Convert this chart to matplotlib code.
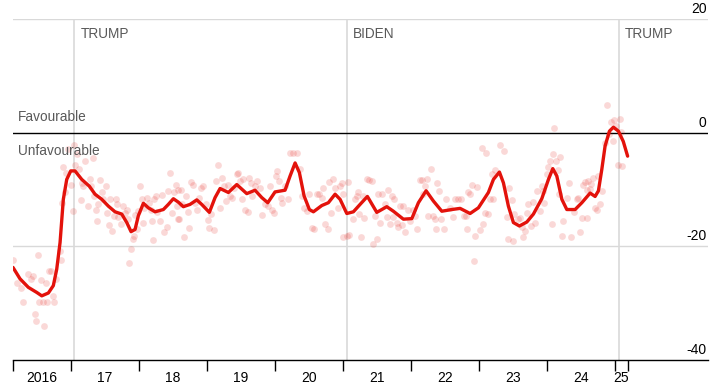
import numpy as np
import matplotlib
matplotlib.use("Agg")
import matplotlib.pyplot as plt
import matplotlib.transforms as mtransforms

plt.rcParams['font.family'] = ['Liberation Sans', 'DejaVu Sans']

# smoothed net favourability (decimal year, value)
trend_year = [2016.151, 2016.254, 2016.376, 2016.5, 2016.574, 2016.671, 2016.744, 2016.794,
              2016.843, 2016.891, 2016.941, 2017.0, 2017.063, 2017.162, 2017.274, 2017.357,
              2017.456, 2017.553, 2017.651, 2017.75, 2017.824, 2017.887, 2017.946, 2017.994,
              2018.068, 2018.141, 2018.24, 2018.362, 2018.435, 2018.509, 2018.582, 2018.656,
              2018.754, 2018.853, 2018.926, 2019.038, 2019.122, 2019.196, 2019.318, 2019.441,
              2019.588, 2019.71, 2019.809, 2019.897, 2020.004, 2020.151, 2020.225, 2020.299,
              2020.362, 2020.431, 2020.509, 2020.568, 2020.691, 2020.788, 2020.887, 2020.96,
              2021.059, 2021.156, 2021.254, 2021.362, 2021.5, 2021.647, 2021.744, 2021.891,
              2022.015, 2022.112, 2022.225, 2022.332, 2022.456, 2022.603, 2022.725, 2022.872,
              2022.994, 2023.141, 2023.215, 2023.303, 2023.362, 2023.435, 2023.509, 2023.597,
              2023.706, 2023.803, 2023.926, 2024.024, 2024.088, 2024.147, 2024.221, 2024.294,
              2024.416, 2024.515, 2024.637, 2024.71, 2024.759, 2024.809, 2024.857, 2024.921,
              2024.979, 2025.053, 2025.124, 2025.188]
trend_val = [-23.7, -25.7, -27.2, -28.1, -28.7, -28.2, -26.9, -24.0,
             -19.3, -11.7, -8.2, -6.7, -6.7, -8.2, -9.4, -10.8,
             -11.7, -12.9, -13.9, -14.3, -15.8, -17.4, -17.0, -14.6,
             -12.4, -13.2, -13.9, -13.5, -12.6, -11.6, -12.2, -13.0,
             -12.6, -11.8, -12.6, -14.0, -11.4, -9.8, -10.5, -9.1,
             -10.7, -10.1, -11.4, -12.3, -10.4, -10.1, -7.6, -5.3,
             -7.0, -11.1, -13.5, -13.9, -12.8, -12.3, -10.8, -11.7,
             -14.2, -13.9, -12.6, -11.2, -14.0, -13.0, -13.8, -15.2,
             -15.1, -12.3, -10.2, -12.0, -13.8, -13.5, -13.3, -14.2,
             -13.2, -10.5, -8.2, -6.9, -8.8, -12.9, -15.8, -16.4,
             -15.7, -14.3, -11.6, -8.2, -6.3, -7.6, -11.7, -13.5,
             -13.5, -12.3, -10.6, -11.2, -10.2, -6.4, -2.3, 0.3,
             1.0, 0.3, -1.5, -4.1]

# individual polls (decimal year, value)
poll_year = [2016.146, 2016.215, 2016.264, 2016.303, 2016.377, 2016.411, 2016.45, 2016.475,
             2016.49, 2016.524, 2016.538, 2016.558, 2016.597, 2016.607, 2016.636, 2016.656,
             2016.685, 2016.705, 2016.734, 2016.759, 2016.783, 2016.852, 2016.842, 2016.867,
             2016.881, 2016.916, 2016.93, 2016.965, 2016.999, 2017.029, 2017.048, 2017.063,
             2017.087, 2017.127, 2017.146, 2017.161, 2017.185, 2017.21, 2017.259, 2017.283,
             2017.293, 2017.323, 2017.342, 2017.372, 2017.391, 2017.406, 2017.43, 2017.455,
             2017.479, 2017.514, 2017.538, 2017.568, 2017.577, 2017.602, 2017.636, 2017.666,
             2017.675, 2017.7, 2017.734, 2017.774, 2017.798, 2017.823, 2017.847, 2017.862,
             2017.882, 2017.911, 2017.93, 2017.945, 2017.97, 2017.994, 2018.018, 2018.043,
             2018.058, 2018.077, 2018.127, 2018.156, 2018.176, 2018.19, 2018.205, 2018.225,
             2018.254, 2018.264, 2018.313, 2018.337, 2018.372, 2018.411, 2018.436, 2018.46,
             2018.485, 2018.519, 2018.548, 2018.558, 2018.583, 2018.583,
             2018.593, 2018.622, 2018.642, 2018.671, 2018.691, 2018.73, 2018.74, 2018.769,
             2018.804, 2018.828, 2018.853, 2018.887, 2018.916, 2018.951, 2018.985, 2019.014,
             2019.034, 2019.063, 2019.112, 2019.132, 2019.161, 2019.196, 2019.22, 2019.259,
             2019.279, 2019.308, 2019.343, 2019.377, 2019.406, 2019.441, 2019.465, 2019.49,
             2019.514, 2019.539, 2019.563, 2019.602, 2019.622, 2019.651, 2019.671, 2019.71,
             2019.735, 2019.784, 2019.818, 2019.857, 2019.896, 2019.931, 2019.965, 2019.994,
             2020.014, 2020.029, 2020.063, 2020.093, 2020.112, 2020.151, 2020.2, 2020.225,
             2020.274, 2020.323, 2020.372, 2020.396, 2020.435, 2020.47, 2020.504, 2020.543,
             2020.583, 2020.617, 2020.652, 2020.69, 2020.715, 2020.74, 2020.779, 2020.798,
             2020.828, 2020.862, 2020.887, 2020.926, 2020.96, 2020.985, 2021.0, 2021.009,
             2021.068, 2021.097, 2021.083, 2021.156, 2021.18, 2021.205, 2021.23, 2021.244,
             2021.264, 2021.293, 2021.313, 2021.352, 2021.391, 2021.426, 2021.45, 2021.475,
             2021.509, 2021.524, 2021.548, 2021.573, 2021.622, 2021.646, 2021.671, 2021.695,
             2021.72, 2021.744, 2021.754, 2021.793, 2021.818, 2021.842, 2021.867, 2021.891,
             2021.916, 2021.965, 2021.989, 2022.028, 2022.063, 2022.087, 2022.136, 2022.161,
             2022.185, 2022.21, 2022.234, 2022.259, 2022.293, 2022.332, 2022.357, 2022.371,
             2022.391, 2022.415, 2022.44, 2022.489, 2022.518, 2022.577, 2022.626, 2022.651,
             2022.7, 2022.734, 2022.783, 2022.812, 2022.822, 2022.847, 2022.871, 2022.896,
             2022.93, 2022.945, 2022.969, 2023.018, 2023.043, 2023.067, 2023.092, 2023.106,
             2023.141, 2023.167, 2023.216, 2023.191, 2023.24, 2023.314, 2023.377, 2023.412,
             2023.426, 2023.446, 2023.485, 2023.51, 2023.524, 2023.583, 2023.608, 2023.632,
             2023.657, 2023.681, 2023.706, 2023.73, 2023.769, 2023.804, 2023.828, 2023.853,
             2023.902, 2023.926, 2023.951, 2023.965, 2024.0, 2024.024, 2024.049, 2024.073,
             2024.098, 2024.112, 2024.132, 2024.171, 2024.196, 2024.181, 2024.22, 2024.245,
             2024.294, 2024.328, 2024.357, 2024.406, 2024.441, 2024.465, 2024.49, 2024.514,
             2024.539, 2024.563, 2024.588, 2024.588, 2024.612, 2024.637, 2024.651, 2024.686,
             2024.71, 2024.735, 2024.749, 2024.784, 2024.818, 2024.857, 2024.882, 2024.916,
             2024.945, 2024.98, 2024.994, 2025.014, 2025.043, 2025.078, 2025.093, 2025.112]
poll_val = [-22.4, -26.4, -27.3, -29.8, -24.9, -25.8, -25.2, -31.9,
            -33.1, -21.5, -29.8, -25.9, -29.8, -34.1, -26.4, -29.7,
            -24.4, -24.4, -28.7, -29.7, -25.7, -22.4, -20.8, -12.4,
            -6.0, -10.5, -7.0, -2.8, -9.1, -13.8, -2.1, -5.6,
            -3.8, -6.4, -11.8, -8.8, -9.4, -5.0, -12.9, -8.1,
            -9.4, -4.4, -11.1, -13.6, -15.5, -12.6, -8.3, -10.5,
            -11.7, -9.4, -14.1, -16.3, -11.7, -17.3, -14.6, -11.7,
            -12.6, -14.9, -16.1, -12.9, -14.2, -13.5, -15.2, -22.9,
            -20.5, -18.7, -18.1, -14.5, -17.0, -13.8, -9.4, -11.7,
            -15.9, -13.2, -11.4, -12.3, -13.6, -15.5, -18.8, -11.6,
            -11.2, -13.9, -15.5, -11.0, -17.4, -16.5, -10.2, -7.0,
            -14.2, -10.4, -9.2, -12.9, -15.1, -10.1,
            -15.2, -10.0, -12.6, -18.3, -11.1, -13.9, -16.7, -8.7,
            -9.1, -12.3, -13.5, -11.4, -9.7, -9.4, -12.6, -15.3,
            -16.7, -14.3, -17.1, -8.5, -5.6, -13.2, -7.9, -9.4,
            -12.0, -9.1, -11.1, -11.4, -9.7, -7.3, -7.0, -8.5,
            -11.7, -8.2, -13.5, -13.9, -7.9, -8.8, -11.1, -9.4,
            -8.5, -9.7, -14.5, -12.6, -12.9, -9.4, -13.5, -14.1,
            -7.6, -6.7, -8.5, -11.4, -12.3, -9.4, -11.7, -3.5,
            -3.5, -3.5, -6.4, -11.1, -13.2, -13.8, -10.8, -16.7,
            -16.9, -10.8, -10.8, -11.4, -9.7, -16.1, -17.0, -8.7,
            -14.1, -8.2, -9.7, -13.2, -9.4, -8.9, -10.7, -18.4,
            -18.1, -17.9, -8.6, -15.2, -11.7, -11.1, -10.4, -14.3,
            -18.4, -11.1, -15.0, -8.1, -8.3, -8.5, -19.6, -14.7,
            -18.7, -10.8, -15.8, -10.7, -12.6, -14.9, -10.1, -16.1,
            -11.1, -14.9, -11.7, -15.8, -16.5, -12.8, -16.3, -12.8,
            -17.4, -13.6, -15.5, -13.5, -14.7, -16.9, -8.3, -8.3,
            -10.8, -9.4, -8.1, -14.7, -6.3, -14.7, -15.2, -16.9,
            -8.9, -10.2, -15.1, -16.9, -11.7, -13.2, -14.9, -11.7,
            -11.7, -11.7, -14.6, -14.7, -16.9, -10.4, -10.7, -9.2,
            -22.5, -18.1, -9.5, -17.1, -2.6, -16.1, -14.1, -3.6,
            -14.3, -11.7, -11.7, -7.2, -6.6, -2.05, -3.2, -14.9,
            -18.7, -9.7, -11.9, -19.0, -14.3, -15.2, -15.0, -16.6,
            -18.4, -17.3, -14.05, -12.6, -16.4, -12.1, -15.8, -10.2,
            -13.8, -9.4, -10.2, -12.3, -7.3, -6.0, -4.9, -16.1,
            -3.7, 0.87, -4.9, -6.6, -4.3, -10.8, -18.1, -15.5,
            -11.5, -8.8, -18.3, -13.9, -11.7, -11.5, -17.4, -15.0,
            -9.2, -8.6, -15.0, -10.1, -8.4, -9.8, -9.0, -7.9,
            -13.2, -13.6, -7.6, -12.5, -10.2, -1.8, 4.85, -0.2,
            1.9, -1.5, 2.3, 1.2, -5.7, 2.5, 0.2, -5.9]

# terms of office
term_start = [2017.055, 2021.055, 2025.055]
term_name = ['TRUMP', 'BIDEN', 'TRUMP']

# x axis: data start, year boundaries, data end
year_edges = [2016.151, 2017, 2018, 2019, 2020, 2021, 2022, 2023, 2024, 2025, 2025.188]
year_labels = ['2016', '17', '18', '19', '20', '21', '22', '23', '24', '25']
y_ticks = [20, 0, -20, -40]

red = '#e3120b'
grey_txt = '#595959'
grid_c = '#d9d9d9'

fig = plt.figure(figsize=(7.25, 3.87), dpi=100)
ax = fig.add_axes([13 / 725, 1 - 360 / 387, 695 / 725, (360 - 19.3) / 387])

ax.set_xlim(2016.151, 2026.37)
ax.set_ylim(-40, 20)

for y in [20, -20]:
    ax.axhline(y, color=grid_c, lw=1, zorder=1)
ax.axhline(0, color='black', lw=1, zorder=2)
for xs, nm in zip(term_start, term_name):
    ax.axvline(xs, color=grid_c, lw=1.2, zorder=1)
    ax.text(xs + 0.09, 17.4, nm, color=grey_txt, fontsize=9.8, va='center', ha='left')

ax.scatter(poll_year, poll_val, s=24, color=red, alpha=0.16, lw=0, zorder=3)
ax.plot(trend_year, trend_val, color=red, lw=2.4, solid_joinstyle='round',
        solid_capstyle='round', zorder=4)

ax.text(2016.23, 2.8, 'Favourable', color=grey_txt, fontsize=9.8, va='center')
ax.text(2016.23, -3.2, 'Unfavourable', color=grey_txt, fontsize=9.8, va='center')

for s in ['top', 'left', 'right']:
    ax.spines[s].set_visible(False)
ax.spines['bottom'].set_color('black')
ax.spines['bottom'].set_linewidth(1)

ax.set_xticks(year_edges)
ax.set_xticklabels([])
ax.tick_params(axis='x', which='major', length=8, width=1, color='black', direction='out')
mids = [(a + b) / 2 for a, b in zip(year_edges[:-1], year_edges[1:])]
ax.set_xticks(mids, minor=True)
ax.set_xticklabels(year_labels, minor=True, fontsize=10)
ax.tick_params(axis='x', which='minor', length=0, pad=8)

ax.yaxis.tick_right()
ax.set_yticks(y_ticks)
ax.set_yticklabels([str(v) for v in y_ticks], fontsize=10)
ax.tick_params(axis='y', length=0, pad=-1)
shift = mtransforms.ScaledTranslation(0, 3 / 100, fig.dpi_scale_trans)
for lab in ax.get_yticklabels():
    lab.set_horizontalalignment('right')
    lab.set_verticalalignment('bottom')
    lab.set_transform(lab.get_transform() + shift)

fig.savefig('out.png', dpi=100)
